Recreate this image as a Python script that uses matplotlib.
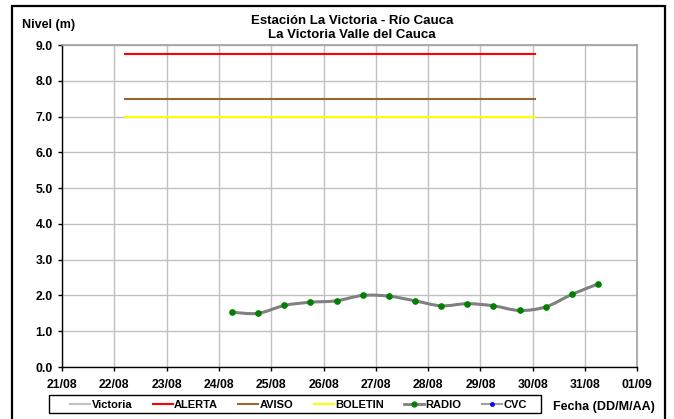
import numpy as np
import pandas as pd
import matplotlib
matplotlib.use("Agg")
import matplotlib.pyplot as plt
import matplotlib.dates as mdates
from matplotlib.path import Path
from matplotlib.patches import PathPatch, Rectangle
from matplotlib.lines import Line2D

plt.rcParams['font.family'] = ['Liberation Sans', 'DejaVu Sans']
plt.rcParams['font.weight'] = 'bold'

# data
radio_times = ['24/08 06:00', '24/08 18:00', '25/08 06:00', '25/08 18:00',
               '26/08 06:00', '26/08 18:00', '27/08 06:00', '27/08 18:00',
               '28/08 06:00', '28/08 18:00', '29/08 06:00', '29/08 18:00',
               '30/08 06:00', '30/08 18:00', '31/08 06:00']
radio_level = [1.53, 1.50, 1.72, 1.81, 1.85, 2.00, 1.98, 1.85,
               1.71, 1.77, 1.71, 1.58, 1.68, 2.03, 2.32]

threshold_span = ['22/08 05:00', '30/08 01:00']
alerta = 8.75
aviso = 7.5
boletin = 7.0

tick_days = ['21/08', '22/08', '23/08', '24/08', '25/08', '26/08',
             '27/08', '28/08', '29/08', '30/08', '31/08', '01/09']


def to_num(s):
    return mdates.date2num(pd.to_datetime('2021/' + s, format='%Y/%d/%m %H:%M')
                           if ' ' in s else pd.to_datetime('2021/' + s, format='%Y/%d/%m'))


x_radio = np.array([to_num(t) for t in radio_times])
y_radio = np.array(radio_level)
x_thr = [to_num(t) for t in threshold_span]
x_ticks = [to_num(t) for t in tick_days]

fig = plt.figure(figsize=(6.74, 4.19), dpi=100)
ax = fig.add_axes([62 / 674, 1 - 367 / 419, (637.3 - 62) / 674, (367 - 45) / 419])

ax.plot(x_thr, [alerta, alerta], color='#ff0000', lw=1.5, zorder=3)
ax.plot(x_thr, [aviso, aviso], color='#996633', lw=1.5, zorder=3)
ax.plot(x_thr, [boletin, boletin], color='#ffff00', lw=1.5, zorder=3)


# smoothed line (Excel style) as bezier path through the readings
def smooth_path(x, y, t=1 / 6):
    verts = [(x[0], y[0])]
    codes = [Path.MOVETO]
    n = len(x)
    for i in range(n - 1):
        p0 = (x[max(i - 1, 0)], y[max(i - 1, 0)])
        p1 = (x[i], y[i])
        p2 = (x[i + 1], y[i + 1])
        p3 = (x[min(i + 2, n - 1)], y[min(i + 2, n - 1)])
        c1 = (p1[0] + (p2[0] - p0[0]) * t, p1[1] + (p2[1] - p0[1]) * t)
        c2 = (p2[0] - (p3[0] - p1[0]) * t, p2[1] - (p3[1] - p1[1]) * t)
        verts += [c1, c2, p2]
        codes += [Path.CURVE4] * 3
    return Path(verts, codes)


ax.add_patch(PathPatch(smooth_path(x_radio, y_radio), fill=False,
                       edgecolor='#808080', lw=2.2, zorder=4))
ax.plot(x_radio, y_radio, ls='none', marker='o', ms=3.8,
        color='#008000', zorder=5)

ax.set_xlim(x_ticks[0], x_ticks[-1])
ax.set_ylim(0, 9)
ax.set_xticks(x_ticks)
ax.set_xticklabels(tick_days)
ax.set_yticks(np.arange(0, 9.5, 1.0))
ax.set_yticklabels(['%.1f' % v for v in np.arange(0, 9.5, 1.0)])
ax.tick_params(labelsize=8.8, length=3, width=1, direction='out')
ax.tick_params(axis='y', pad=3.5)
ax.tick_params(axis='x', pad=5.5)
ax.grid(True, color='#c0c0c0', lw=1)
ax.set_axisbelow(True)
for s in ['top', 'right']:
    ax.spines[s].set_color('#a0a0a0')
    ax.spines[s].set_linewidth(1.2)
for s in ['left', 'bottom']:
    ax.spines[s].set_color('black')
    ax.spines[s].set_linewidth(1)

fig.text(352 / 674, 1 - 21.5 / 419, 'Estación La Victoria - Río Cauca',
         ha='center', va='center', fontsize=9.5, fontweight='bold')
fig.text(352 / 674, 1 - 35.5 / 419, 'La Victoria Valle del Cauca',
         ha='center', va='center', fontsize=9.5, fontweight='bold')
fig.text(21.5 / 674, 1 - 25 / 419, 'Nivel (m)', ha='left', va='center',
         fontsize=9, fontweight='bold')
fig.text(604 / 674, 1 - 406.5 / 419, 'Fecha (DD/M/AA)', ha='center', va='center',
         fontsize=9, fontweight='bold')

handles = [
    Line2D([], [], color='#c0c0c0', lw=1.5),
    Line2D([], [], color='#ff0000', lw=1.5),
    Line2D([], [], color='#996633', lw=1.5),
    Line2D([], [], color='#ffff00', lw=1.5),
    Line2D([], [], color='#808080', lw=2, marker='o', ms=3.5, mfc='#008000', mec='#008000'),
    Line2D([], [], color='#a0a0a0', lw=1.5, marker='o', ms=2.5, mfc='#0000ff', mec='#0000ff'),
]
labels = ['Victoria', 'ALERTA', 'AVISO', 'BOLETIN', 'RADIO', 'CVC']
leg = fig.legend(handles, labels, loc='center', ncol=6, frameon=False,
                 bbox_to_anchor=(298.5 / 674, 1 - 404.5 / 419),
                 borderaxespad=0, fontsize=8, handlelength=1.8, handletextpad=0.15,
                 borderpad=0, columnspacing=1.8)

fig.patches.append(Rectangle((49 / 674, 1 - 413 / 419), (540.7 - 49) / 674, 18 / 419,
                             transform=fig.transFigure, fill=False,
                             edgecolor='black', lw=1))
fig.patches.append(Rectangle((12.5 / 674, -0.02), (665 - 12.5) / 674, 1.02 - 6 / 419,
                             transform=fig.transFigure, fill=False,
                             edgecolor='black', lw=1.6))

fig.savefig('out.png', dpi=100)
